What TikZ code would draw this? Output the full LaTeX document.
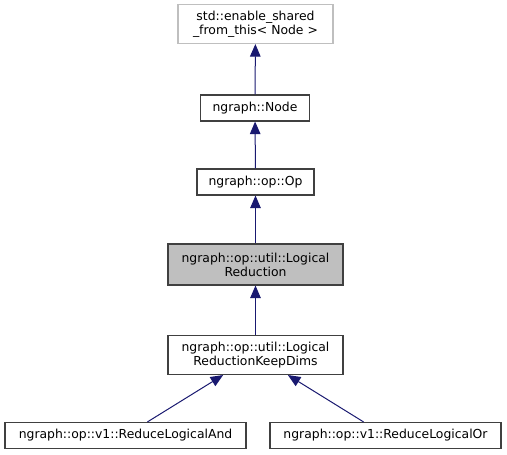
\documentclass[tikz,border=0pt]{standalone}
\usepackage{fontspec}
\setmainfont{DejaVu Sans}
\usetikzlibrary{arrows.meta}
\definecolor{edgeblue}{HTML}{191970}
\definecolor{boxgray}{HTML}{BFBFBF}
\definecolor{boxline}{HTML}{404040}
\tikzset{
  cls/.style={draw=boxline, line width=1.1pt, inner sep=0pt, align=center,
    font=\fontsize{12.4}{14}\selectfont, minimum height=26pt},
  extcls/.style={cls, draw=boxgray},
  curcls/.style={cls, fill=boxgray},
  inh/.style={draw=edgeblue, line width=1pt, -{Triangle[length=12.5pt,width=10.5pt]}}
}
\begin{document}
\begin{tikzpicture}[x=1pt, y=-1pt]
            \useasboundingbox (0, 0) rectangle (507, 455);

            \node[extcls, minimum width=155pt, minimum height=39pt] (shared) at (255.5, 24) {std::enable\_shared\\\_from\_this< Node >};
            \node[cls, minimum width=109pt] (node) at (255, 108) {ngraph::Node};
            \node[cls, minimum width=117pt] (op) at (255.5, 182) {ngraph::op::Op};
            \node[curcls, minimum width=175pt, minimum height=41pt] (logred) at (255.5, 264.5) {ngraph::op::util::Logical\\Reduction};
            \node[cls, minimum width=175pt, minimum height=39pt] (keepdims) at (255.5, 355) {ngraph::op::util::Logical\\ReductionKeepDims};
            \node[cls, minimum width=241pt] (redand) at (125.5, 435.5) {ngraph::op::v1::ReduceLogicalAnd};
            \node[cls, minimum width=231pt] (redor) at (385.5, 435.5) {ngraph::op::v1::ReduceLogicalOr};

            \draw[inh] (node) -- (shared);
            \draw[inh] (op) -- (node);
            \draw[inh] (logred) -- (op);
            \draw[inh] (keepdims) -- (logred);
            \draw[inh] (redand) -- (keepdims);
            \draw[inh] (redor) -- (keepdims);
        \end{tikzpicture}
\end{document}
